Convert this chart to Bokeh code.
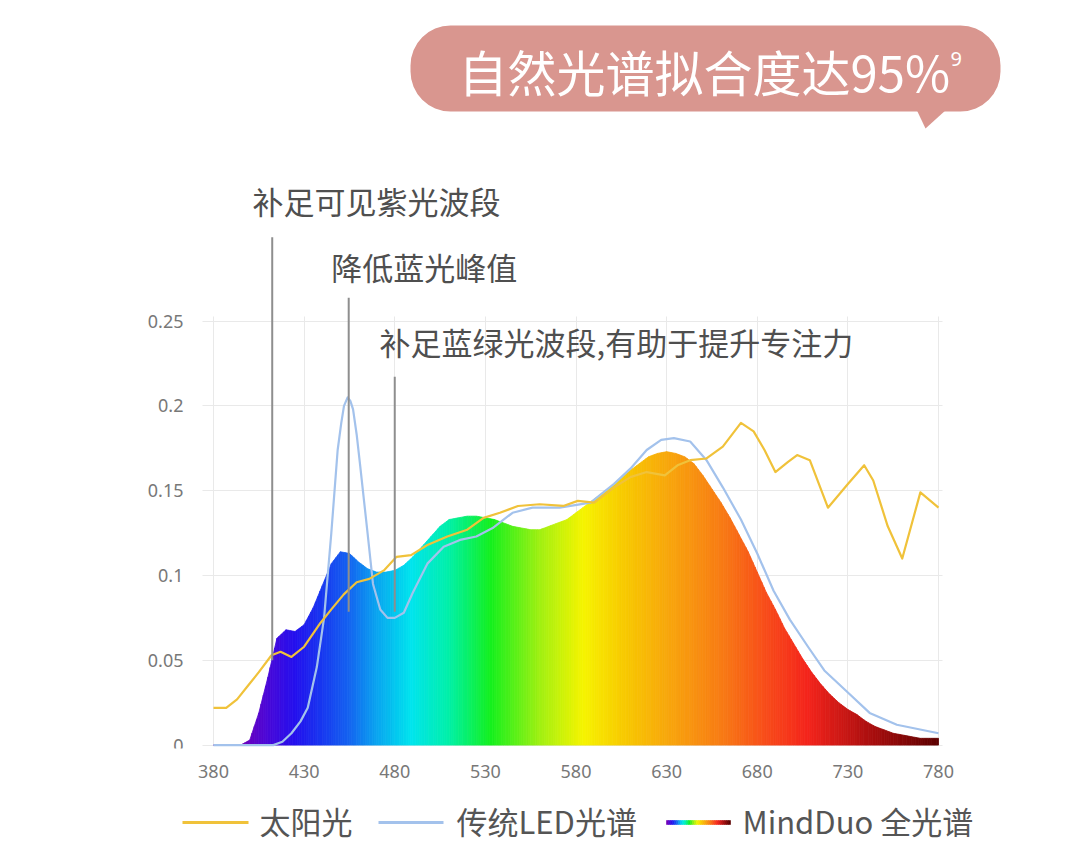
import numpy as np
from bokeh.plotting import figure
from bokeh.models import Range1d, FixedTicker, CustomJSTickFormatter
from bokeh.layouts import column
from bokeh.embed import file_html
from bokeh.resources import INLINE
from bokeh.core.properties import value

# ---------------- data ----------------
solar_nm = [380, 387, 393, 399, 405, 412, 417, 423, 430, 439, 445, 452, 459, 466, 474,
            481, 489, 498, 509, 520, 529, 538, 548, 560, 573, 581, 590, 601, 610, 619,
            629, 636, 643, 652, 661, 671, 678, 684, 690, 697, 702, 709, 719, 730, 739,
            744, 752, 760, 770, 780]
solar_val = [0.022, 0.022, 0.027, 0.035, 0.043, 0.053, 0.055, 0.052, 0.058, 0.072, 0.080,
             0.089, 0.096, 0.098, 0.103, 0.111, 0.112, 0.118, 0.123, 0.127, 0.134, 0.137,
             0.141, 0.142, 0.141, 0.144, 0.143, 0.152, 0.158, 0.161, 0.159, 0.165, 0.168,
             0.169, 0.176, 0.190, 0.185, 0.174, 0.161, 0.167, 0.171, 0.168, 0.140, 0.154,
             0.165, 0.156, 0.129, 0.110, 0.149, 0.140]

led_nm = [380, 413, 418, 423, 428, 432, 437, 441, 445, 448.5, 450.5, 452, 454, 455.5, 457,
          459, 461, 465, 468, 472, 476, 480, 485, 490, 498, 507, 516, 525, 534, 545,
          556, 571, 588, 601, 610, 619, 627, 634, 643, 652, 661, 671, 680, 689, 698,
          708, 717, 730, 742, 757, 780]
led_val = [0.0, 0.0, 0.002, 0.007, 0.014, 0.022, 0.046, 0.075, 0.125, 0.174, 0.190, 0.200,
           0.205, 0.203, 0.198, 0.183, 0.164, 0.125, 0.095, 0.080, 0.075, 0.075, 0.078,
           0.090, 0.107, 0.117, 0.121, 0.123, 0.128, 0.137, 0.140, 0.140, 0.143, 0.154,
           0.163, 0.174, 0.180, 0.181, 0.179, 0.168, 0.152, 0.133, 0.113, 0.091, 0.074,
           0.058, 0.044, 0.031, 0.019, 0.012, 0.007]

full_nm = list(range(380, 781, 5))
full_val = [0.0, 0.0, 0.0, 0.0, 0.003, 0.019, 0.040, 0.063, 0.068, 0.067,      # 380-425
            0.071, 0.081, 0.094, 0.107, 0.114, 0.113, 0.108, 0.104, 0.102, 0.102,  # 430-475
            0.103, 0.106, 0.111, 0.117, 0.123, 0.129, 0.133, 0.134, 0.135, 0.135,  # 480-525
            0.134, 0.133, 0.131, 0.129, 0.128, 0.127, 0.127, 0.129, 0.131, 0.133,  # 530-575
            0.137, 0.141, 0.145, 0.149, 0.153, 0.158, 0.162, 0.166, 0.170, 0.172,  # 580-625
            0.173, 0.172, 0.170, 0.166, 0.159, 0.151, 0.143, 0.134, 0.124, 0.114,  # 630-675
            0.102, 0.090, 0.080, 0.069, 0.060, 0.051, 0.043, 0.036, 0.030, 0.025,  # 680-725
            0.021, 0.018, 0.014, 0.011, 0.009, 0.007, 0.006, 0.005, 0.004, 0.004,  # 730-775
            0.004]                                                                  # 780
assert len(full_nm) == len(full_val)
assert len(led_nm) == len(led_val)

x_ticks = [380, 430, 480, 530, 580, 630, 680, 730, 780]
y_ticks = [0, 0.05, 0.1, 0.15, 0.2, 0.25]

series_labels = ["太阳光", "传统LED光谱", "MindDuo 全光谱"]
title_text = "自然光谱拟合度达95%"
title_sup = "9"
note_texts = ["补足可见紫光波段", "降低蓝光峰值", "补足蓝绿光波段,有助于提升专注力"]
note_nm = [412.4, 454.6, 480.0]

# ---------------- styles ----------------
SOLAR = "#F0C23A"
LED = "#A3C2EC"
BUBBLE = "#D9968F"
NOTE_TXT = "#4f4f4f"
AXIS_TXT = "#787878"
GRID = "#e9e9e9"
CJK = "Noto Sans CJK SC"

stop_nm = [395, 410, 425, 440, 455, 470, 489, 510, 533, 560, 584, 605, 630, 660, 685, 708, 740, 780]
stop_hex = ["#7000b8", "#4a08d8", "#2410ee", "#1838f0", "#1464f0", "#0aa4f0", "#00e4ee",
            "#00f0a8", "#14f01e", "#a0f012", "#f6f400", "#f8cc00", "#f8a80c", "#f87c14",
            "#f84c1a", "#f4241c", "#b01010", "#5c0000"]
_rgb = np.array([[int(h[i:i + 2], 16) for i in (1, 3, 5)] for h in stop_hex], dtype=float)


def spectrum(nm):
    r, g, b = (np.interp(nm, stop_nm, _rgb[:, k]) for k in range(3))
    return "#%02x%02x%02x" % (int(round(r)), int(round(g)), int(round(b)))


# page layout (all three frames share the same horizontal extent)
W = 1064
FL, FR = 140, 1064          # frame left / right in page px
PX_PER_NM = 1.8125
PX_PER_UNIT = 1696.0
NM_AT_380 = 213.0           # page px of 380 nm


def common(fig):
    fig.outline_line_color = None
    fig.min_border_left = FL
    fig.min_border_right = W - FR
    return fig


# ---------------- title bubble ----------------
t = common(figure(width=W, height=140, x_range=Range1d(FL, FR), y_range=Range1d(140, 0),
                  x_axis_type=None, y_axis_type=None, output_backend="svg",
                  toolbar_location=None, title=None, min_border_top=0, min_border_bottom=0))
t.grid.visible = False
t.quad(left=[410], right=[1000], top=[25], bottom=[111], border_radius=40,
       fill_color=BUBBLE, line_color=None)
t.patch(x=[916, 946, 925], y=[109, 109, 128], fill_color=BUBBLE, line_color=None)
t.text(x=[458], y=[70], text=[title_text], text_font=value(CJK), text_font_size="49px",
       text_color="white", text_baseline="middle", text_align="left")
t.text(x=[950], y=[58], text=[title_sup], text_font=value("Noto Sans"), text_font_size="20px",
       text_color="white", text_baseline="middle", text_align="left")

# ---------------- chart ----------------
y0 = -0.002
frame_h = 608
x_start = 380 - (NM_AT_380 - FL) / PX_PER_NM
x_end = x_start + (FR - FL) / PX_PER_NM
p = common(figure(width=W, height=652, x_range=Range1d(x_start, x_end),
                  y_range=Range1d(y0, y0 + frame_h / PX_PER_UNIT),
                  output_backend="svg", toolbar_location=None, title=None,
                  min_border_top=0, min_border_bottom=44))

xt = FixedTicker(ticks=x_ticks)
yt = FixedTicker(ticks=y_ticks)
p.xaxis.ticker = xt
p.yaxis.ticker = yt
p.xgrid.ticker = xt
p.ygrid.ticker = yt
p.yaxis.formatter = CustomJSTickFormatter(code="return String(Math.round(tick*100)/100)")
p.yaxis.fixed_location = 380
for ax in (p.xaxis, p.yaxis):
    ax.axis_line_color = None
    ax.major_tick_line_color = None
    ax.minor_tick_line_color = None
    ax.major_tick_out = 0
    ax.major_tick_in = 0
    ax.major_label_text_font = "Noto Sans"
    ax.major_label_text_font_size = "18px"
    ax.major_label_text_color = AXIS_TXT
p.xaxis.major_label_standoff = 16
p.yaxis.major_label_standoff = 30

p.xgrid.grid_line_color = GRID
p.ygrid.grid_line_color = GRID
p.xgrid.cross_bounds = (0, 0.2525)
p.ygrid.cross_bounds = (374, 782)

# MindDuo spectrum: each linear piece between two read points is drawn as thin
# colour strips (same outline, only the colour varies along the wavelength)
xs, ys, cols = [], [], []
K = 4
for i in range(len(full_nm) - 1):
    a, b = full_nm[i], full_nm[i + 1]
    ya, yb = full_val[i], full_val[i + 1]
    for j in range(K):
        f0, f1 = j / K, (j + 1) / K
        xa, xb = a + (b - a) * f0, a + (b - a) * f1
        ha, hb = ya + (yb - ya) * f0, ya + (yb - ya) * f1
        xs.append([xa, xb, xb, xa])
        ys.append([0, 0, hb, ha])
        cols.append(spectrum((xa + xb) / 2))
p.patches(xs=xs, ys=ys, fill_color=cols, line_color=cols, line_width=0.8)

p.line(led_nm, led_val, line_color=LED, line_width=2.2, line_join="round")
p.line(solar_nm, solar_val, line_color=SOLAR, line_width=2.2, line_join="round")

# annotation lines and texts
note_bottom = [0.050, 0.0786, 0.0786]
note_top = [0.2995, 0.2637, 0.2172]
p.segment(x0=note_nm, y0=note_bottom, x1=note_nm, y1=note_top, line_color="#8e8e8e", line_width=2)
p.text(x=[401.5, 445.0, 471.6], y=[0.3213, 0.2824, 0.2382], text=note_texts,
       text_font=value(CJK), text_font_size="31px", text_color=NOTE_TXT,
       text_baseline="middle", text_align="left")

# ---------------- legend ----------------
g = common(figure(width=W, height=68, x_range=Range1d(FL, FR), y_range=Range1d(860, 792),
                  x_axis_type=None, y_axis_type=None, output_backend="svg",
                  toolbar_location=None, title=None, min_border_top=0, min_border_bottom=0))
g.grid.visible = False
LY = 822
g.segment(x0=[182], y0=[LY], x1=[248], y1=[LY], line_color=SOLAR, line_width=3)
g.segment(x0=[378], y0=[LY], x1=[443], y1=[LY], line_color=LED, line_width=3)
n = 32
edges = np.linspace(666, 730, n + 1)
rc = [spectrum(v) for v in np.linspace(395, 780, n)]
g.quad(left=edges[:-1], right=edges[1:], top=LY - 2, bottom=LY + 2, fill_color=rc,
       line_color=rc, line_width=0.6)
g.text(x=[259, 456, 742], y=[LY - 2] * 3, text=series_labels, text_font=value(CJK),
       text_font_size="31px", text_color="#555555", text_baseline="middle", text_align="left")

layout = column(t, p, g, spacing=0)
open("out.html", "w").write(file_html(layout, INLINE))
